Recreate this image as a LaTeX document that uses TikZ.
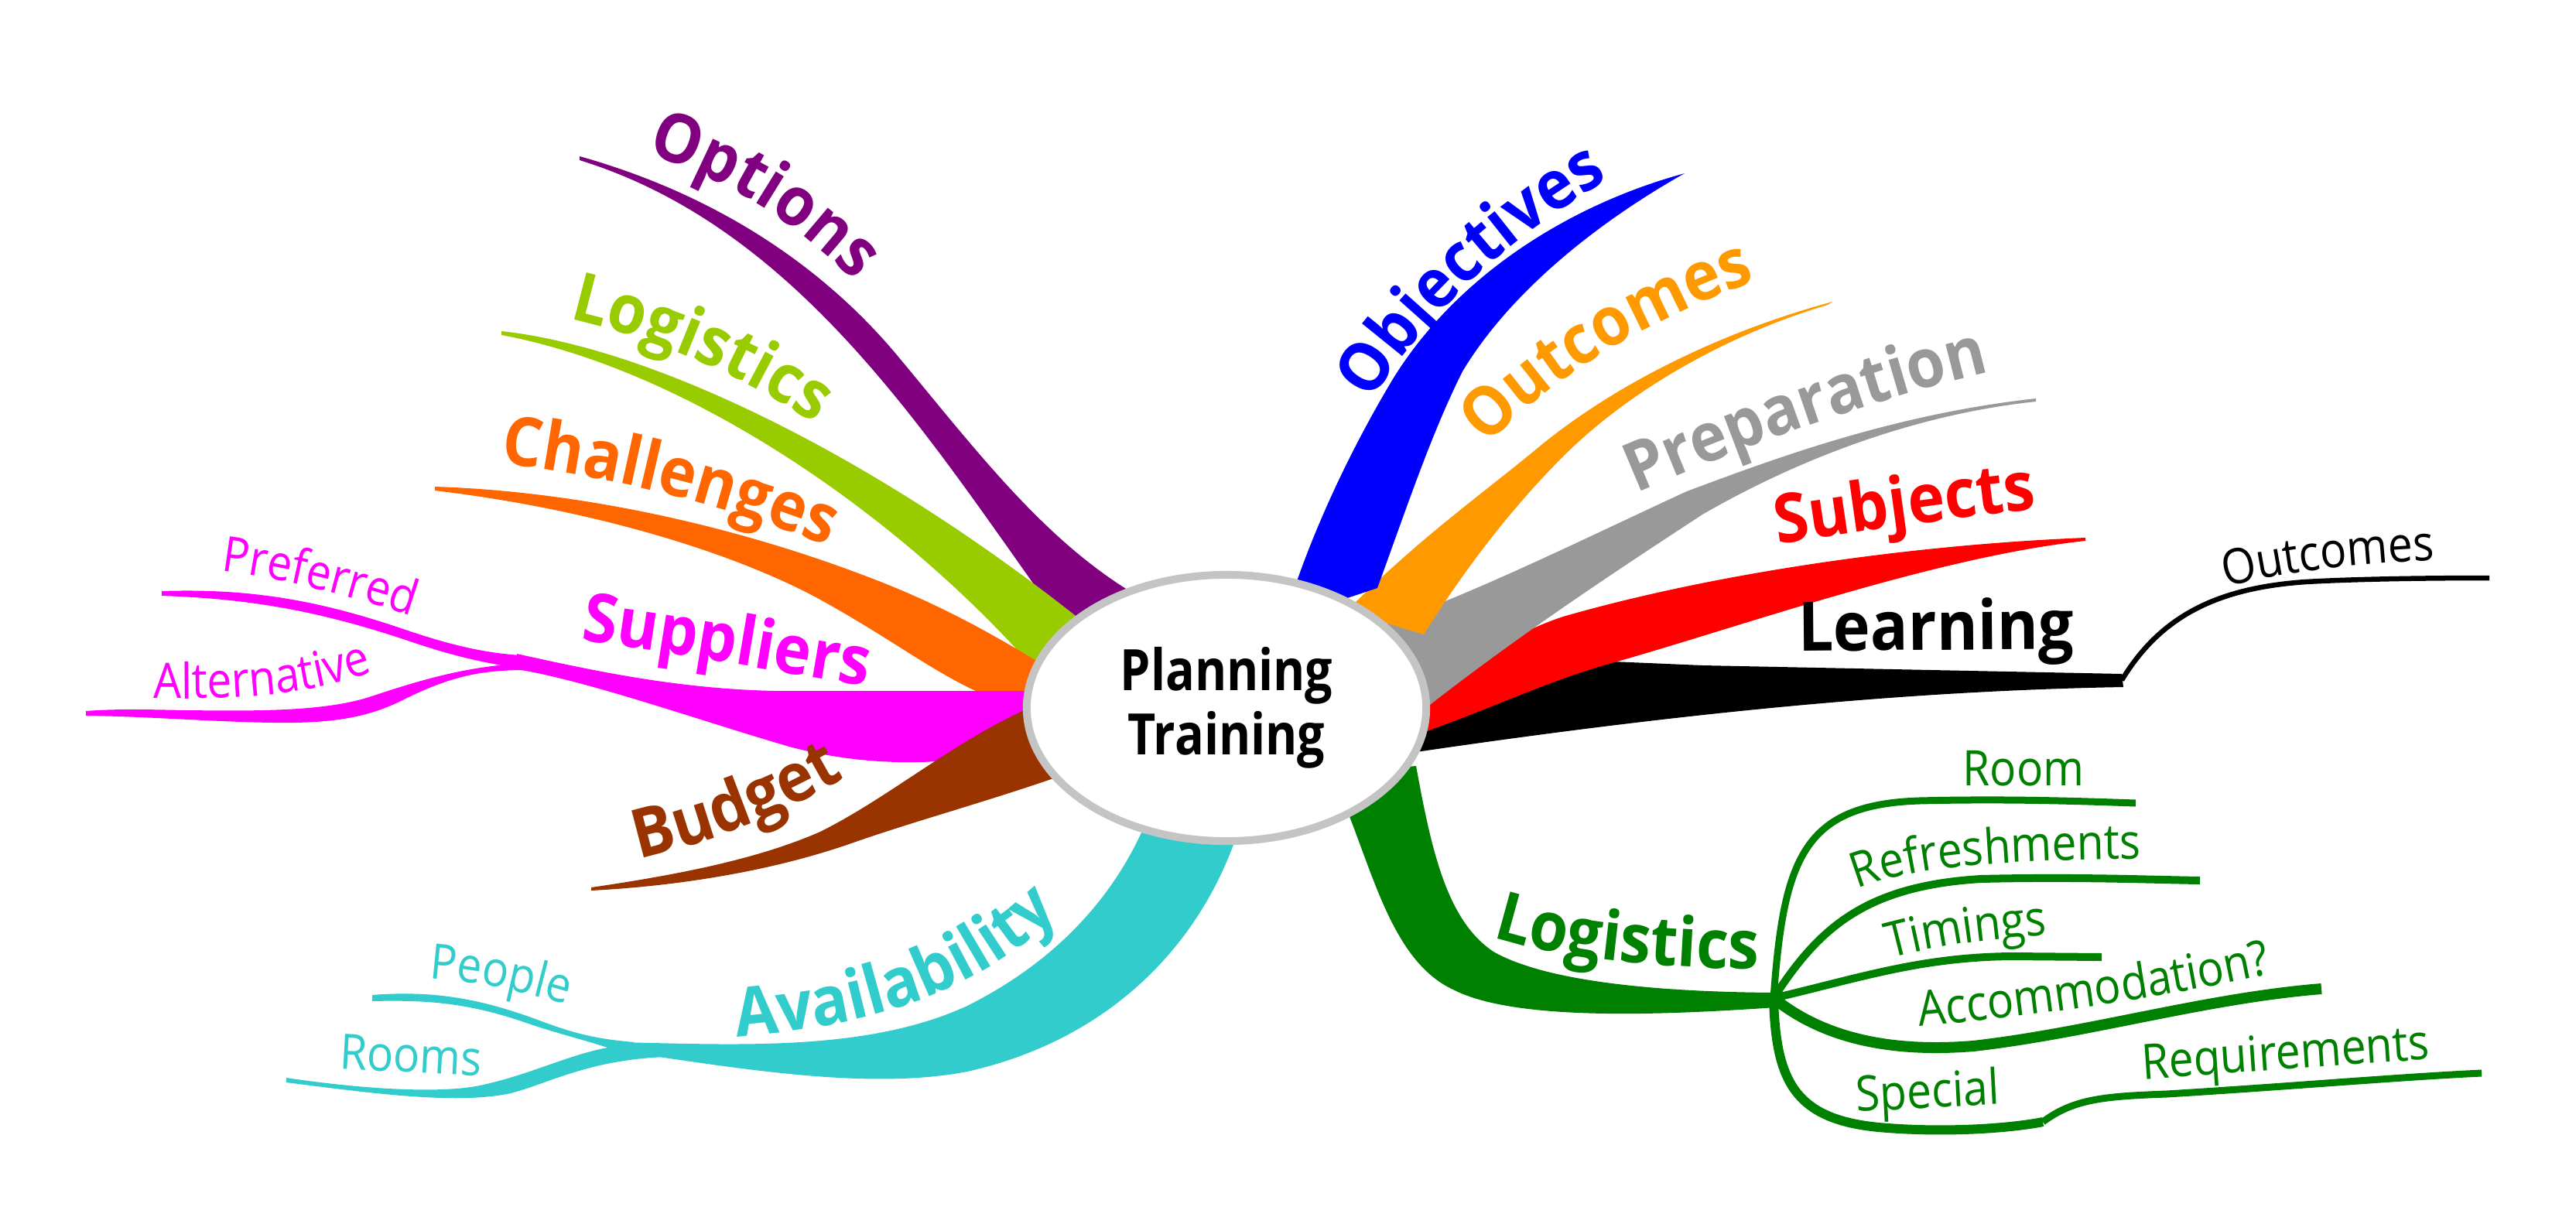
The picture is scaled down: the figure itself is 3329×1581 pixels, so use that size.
\documentclass[tikz,border=0pt]{standalone}
\usepackage{fontspec}
\setmainfont{Open Sans}
\newfontfamily\lblfamily[FakeStretch=0.92]{Open Sans}
\newfontfamily\subfamily[FakeStretch=0.9]{Open Sans}
\newfontfamily\cenfamily[FakeStretch=0.85]{Open Sans}
\usetikzlibrary{shapes.geometric,decorations.text,calc}
\definecolor{cOpt}{HTML}{800080}
\definecolor{cLog}{HTML}{99CC00}
\definecolor{cCha}{HTML}{FF6600}
\definecolor{cSup}{HTML}{FF00FF}
\definecolor{cBud}{HTML}{993300}
\definecolor{cAva}{HTML}{33CCCC}
\definecolor{cObj}{HTML}{0000FF}
\definecolor{cOut}{HTML}{FF9900}
\definecolor{cPre}{HTML}{999999}
\definecolor{cSub}{HTML}{FF0000}
\definecolor{cLea}{HTML}{000000}
\definecolor{cGre}{HTML}{008000}
\definecolor{ellBorder}{HTML}{C4C4C4}
\newcommand\LblFont{\lblfamily\bfseries\fontsize{25}{30}\selectfont}
\newcommand\SubFont{\subfamily\fontsize{18}{22}\selectfont}
\pgfdeclareradialshading{ellsh}{\pgfpoint{0bp}{0bp}}{color(0bp)=(white); color(34bp)=(white); color(50bp)=(black!16); color(100bp)=(black!16)}
\tikzset{
  bigtext/.style={decorate, decoration={text along path, text align=center, text color=#1}},
  subnode/.style={font=\SubFont, text=#1, anchor=base, inner sep=0pt},
  twig/.style={draw=cGre, line width=0.09cm},
}
\begin{document}
\begin{tikzpicture}[x=0.01cm,y=-0.01cm]
\fill[white] (0,0) rectangle (3329,1581);
\useasboundingbox (0,0) rectangle (3329,1581);

% tips and junctions
\coordinate (tOpt) at (749,202);
\coordinate (tLog) at (648,428);
\coordinate (tCha) at (562,629);
\coordinate (jSup) at (668,855);
\coordinate (tPref) at (209,764);
\coordinate (tAlt) at (111,919);
\coordinate (tBud) at (764,1147);
\coordinate (jAva) at (797,1352);
\coordinate (tPeo) at (481,1290);
\coordinate (tRoo) at (370,1396);
\coordinate (tObj) at (2177,224);
\coordinate (tOut) at (2368,390);
\coordinate (tPre) at (2631,515);
\coordinate (tSub) at (2695,695);
\coordinate (jLea) at (2742,879);
\coordinate (tLeaOut) at (3217,747);
\coordinate (jGre) at (2292,1290);
\coordinate (tRoom) at (2760,1038);
\coordinate (tRef) at (2843,1138);
\coordinate (tTim) at (2716,1237);
\coordinate (tAcc) at (3000,1278);
\coordinate (jSpe) at (2640,1450);
\coordinate (tReq) at (3207,1387);

% ---------- left side ----------
% Options
\fill[cOpt] (tOpt) .. controls (920,250) and (1060,340) .. (1160,460) .. controls (1260,580) and (1350,700) .. (1470,770)
  -- (1390,830) .. controls (1220,600) and (1050,300) .. ($(tOpt)+(0,5)$) -- cycle;
% Logistics (top)
\fill[cLog] (tLog) .. controls (850,450) and (1150,600) .. (1420,820)
  -- (1350,880) .. controls (1180,680) and (900,480) .. ($(tLog)+(0,5)$) -- cycle;
% Challenges
\fill[cCha] (tCha) .. controls (750,635) and (950,680) .. (1120,745) .. controls (1200,775) and (1280,815) .. (1380,880)
  -- (1380,910) -- (1290,905) .. controls (1220,880) and (1160,830) .. (1060,775) .. controls (960,720) and (780,660) .. ($(tCha)+(0,5)$) -- cycle;
% Suppliers
\fill[cSup] (jSup) ++(0,-10) .. controls (780,870) and (880,890) .. (1000,893) -- (1420,893)
  -- (1420,930) .. controls (1300,990) and (1150,1000) .. (1020,965) .. controls (900,930) and (760,880) .. ($(jSup)+(0,10)$) -- cycle;
\fill[cSup] (tPref) .. controls (330,760) and (420,778) .. (530,816) .. controls (590,836) and (630,844) .. ($(jSup)+(5,-8)$)
  -- ($(jSup)+(0,8)$) .. controls (620,856) and (580,846) .. (530,829) .. controls (420,792) and (330,774) .. ($(tPref)+(0,6)$) -- cycle;
\fill[cSup] ($(jSup)+(0,3)$) .. controls (600,862) and (540,880) .. (480,900) .. controls (420,920) and (330,919) .. (240,918)
  .. controls (190,917) and (150,916) .. (tAlt) -- ($(tAlt)+(0,6)$) .. controls (200,926) and (300,935) .. (380,934)
  .. controls (440,933) and (480,925) .. (520,905) .. controls (580,875) and (620,866) .. ($(jSup)+(10,11)$) -- cycle;
% Budget
\fill[cBud] (tBud) .. controls (880,1130) and (980,1110) .. (1060,1075) .. controls (1150,1030) and (1230,960) .. (1330,915) -- (1420,905)
  -- (1420,985) .. controls (1300,1030) and (1200,1055) .. (1100,1090) .. controls (1000,1125) and (880,1145) .. ($(tBud)+(0,4)$) -- cycle;
% Availability
\fill[cAva] (1610,1040) .. controls (1570,1200) and (1450,1340) .. (1250,1385) .. controls (1120,1410) and (950,1380) .. ($(jAva)+(0,6)$)
  -- ($(jAva)+(0,-5)$) .. controls (950,1350) and (1120,1360) .. (1250,1300) .. controls (1370,1240) and (1450,1150) .. (1490,1040) -- cycle;
\fill[cAva] (tPeo) ++(0,-4) .. controls (560,1280) and (620,1290) .. (700,1320) .. controls (740,1335) and (770,1343) .. (820,1347)
  -- ($(jAva)+(0,6)$) .. controls (760,1345) and (720,1336) .. (680,1322) .. controls (610,1298) and (560,1292) .. ($(tPeo)+(0,4)$) -- cycle;
\fill[cAva] (tRoo) ++(0,-3) .. controls (450,1405) and (560,1415) .. (620,1403) .. controls (690,1388) and (740,1360) .. (jAva)
  -- (860,1366) .. controls (760,1370) and (710,1400) .. (660,1413) .. controls (590,1428) and (480,1413) .. ($(tRoo)+(0,3)$) -- cycle;

% ---------- right side ----------
% Learning
\fill[cLea] (1830,915) -- (2083,855) -- (2200,860) -- ($(jLea)+(0,-8)$) -- ($(jLea)+(2,9)$)
  .. controls (2450,893) and (2150,925) .. (1830,972) -- cycle;
\draw[cLea, line width=0.065cm] (jLea) .. controls (2790,800) and (2860,760) .. (2980,752) .. controls (3050,748) and (3150,747) .. (tLeaOut);
% Subjects
\fill[cSub] (tSub) .. controls (2450,705) and (2200,745) .. (2020,797) .. controls (1950,820) and (1900,860) .. (1820,900)
  -- (1830,950) .. controls (1930,915) and (2000,880) .. (2083,857) .. controls (2250,810) and (2500,720) .. ($(tSub)+(0,4)$) -- cycle;
% Preparation
\fill[cPre] (tPre) .. controls (2450,535) and (2300,590) .. (2180,635) .. controls (2060,690) and (1900,770) .. (1780,810)
  -- (1830,925) .. controls (1950,830) and (2070,750) .. (2200,665) .. controls (2330,590) and (2480,535) .. ($(tPre)+(0,4)$) -- cycle;
% Outcomes
\fill[cOut] (tOut) .. controls (2220,430) and (2080,500) .. (1980,585) .. controls (1900,650) and (1830,700) .. (1740,790)
  -- (1840,820) .. controls (1890,740) and (1950,660) .. (2020,590) .. controls (2110,500) and (2240,430) .. ($(tOut)+(-6,4)$) -- cycle;
% Objectives
\fill[cObj] (tObj) .. controls (2060,290) and (1950,380) .. (1890,480) .. controls (1850,560) and (1820,650) .. (1780,760)
  -- (1660,800) .. controls (1690,700) and (1740,590) .. (1800,490) .. controls (1880,360) and (2020,270) .. ($(tObj)+(-14,4)$) -- cycle;
% Logistics (bottom, green)
\fill[cGre] (1720,1000) .. controls (1770,1100) and (1790,1240) .. (1880,1280) .. controls (1960,1320) and (2150,1312) .. ($(jGre)+(3,12)$)
  -- ($(jGre)+(0,-7)$) .. controls (2150,1282) and (2000,1270) .. (1930,1230) .. controls (1870,1190) and (1850,1100) .. (1830,990) -- cycle;
\draw[twig] (jGre) .. controls (2305,1110) and (2330,1040) .. (2480,1035) .. controls (2600,1032) and (2700,1036) .. (tRoom);
\draw[twig, line width=0.1cm] (jGre) .. controls (2350,1200) and (2410,1145) .. (2560,1136) .. controls (2680,1133) and (2780,1137) .. (tRef);
\draw[twig, line width=0.1cm] (jGre) .. controls (2400,1265) and (2480,1237) .. (2600,1236) -- (tTim);
\draw[twig, line width=0.14cm] (jGre) .. controls (2360,1345) and (2450,1360) .. (2550,1352) .. controls (2700,1335) and (2850,1290) .. (tAcc);
\draw[twig, line width=0.12cm] (jGre) .. controls (2295,1400) and (2320,1450) .. (2440,1458) .. controls (2520,1464) and (2600,1458) .. (jSpe);
\draw[twig] (jSpe) .. controls (2680,1420) and (2720,1417) .. (2800,1414) .. controls (2950,1405) and (3100,1392) .. (tReq);

% ---------- centre ----------
\node[ellipse, minimum width=5.16cm, minimum height=3.44cm, draw=ellBorder, line width=0.1cm, shading=ellsh,
  align=center, font=\cenfamily\bfseries\fontsize{21}{23.6}\selectfont] (center) at (1585,915) {Planning\\Training};

% ---------- big labels ----------
\path[bigtext=cOpt, decoration={text={|\LblFont|Options}}] (790,185) .. controls (930,222) and (1045,290) .. (1135,400);
\path[bigtext=cLog, decoration={text={|\LblFont|Logistics}}] (680,400) .. controls (830,428) and (965,482) .. (1100,580);
\path[bigtext=cCha, decoration={text={|\LblFont|Challenges}}] (560,590) .. controls (780,608) and (960,655) .. (1150,740);
\path[bigtext=cSup, decoration={text={|\LblFont|Suppliers}}] (690,820) .. controls (850,838) and (1000,868) .. (1180,897);
\path[bigtext=cBud, decoration={text={|\LblFont|Budget}}] (770,1122) .. controls (900,1098) and (1020,1055) .. (1140,975);
\path[bigtext=cAva, decoration={text={|\LblFont|Availability}}] (870,1345) .. controls (1100,1335) and (1280,1300) .. (1425,1120);
\path[bigtext=cObj, decoration={text={|\LblFont|Objectives}}] (1735,590) .. controls (1800,440) and (1950,290) .. (2150,195);
\path[bigtext=cOut, decoration={text={|\LblFont|Outcomes}}] (1870,630) .. controls (1990,490) and (2130,405) .. (2340,340);
\path[bigtext=cPre, decoration={text={|\LblFont|Preparation}}] (2050,665) .. controls (2200,600) and (2390,518) .. (2640,465);
\path[bigtext=cSub, decoration={text={|\LblFont|Subjects}}] (2230,714) .. controls (2380,690) and (2530,668) .. (2700,650);
\node[font=\LblFont, anchor=base, inner sep=0pt, rotate=0.5] (lLea) at (2502,840) {Learning};
\path[bigtext=cGre, decoration={text={|\LblFont|Logistics}}] (1885,1195) .. controls (1950,1222) and (2040,1250) .. (2320,1254);

% ---------- small labels ----------
\path[bigtext=cSup, decoration={text={|\SubFont|Preferred}}] (240,733) .. controls (350,743) and (455,768) .. (575,812);
\path[bigtext=cSup, decoration={text={|\SubFont|Alternative}}] (140,902) .. controls (300,905) and (420,905) .. (535,845);
\path[bigtext=cAva, decoration={text={|\SubFont|People}}] (510,1262) .. controls (600,1264) and (680,1280) .. (775,1312);
\node[subnode=cAva, rotate=-3] (lRooms) at (530,1386) {Rooms};
\path[bigtext=black, decoration={text={|\SubFont|Outcomes}}] (2830,772) .. controls (2920,742) and (3030,728) .. (3195,722);
\node[subnode=cGre] (lRoom) at (2615,1015) {Room};
\path[bigtext=cGre, decoration={text={|\SubFont|Refreshments}}] (2345,1180) .. controls (2420,1125) and (2520,1110) .. (2830,1110);
\path[bigtext=cGre, decoration={text={|\SubFont|Timings}}] (2400,1252) .. controls (2480,1225) and (2560,1212) .. (2690,1206);
\path[bigtext=cGre, decoration={text={|\SubFont|Accommodation?}}] (2420,1332) .. controls (2600,1318) and (2800,1292) .. (2995,1245);
\node[subnode=cGre, rotate=3] (lSpe) at (2492,1432) {Special};
\node[subnode=cGre, rotate=4] (lReq) at (2955,1382) {Requirements};
\end{tikzpicture}
\end{document}
